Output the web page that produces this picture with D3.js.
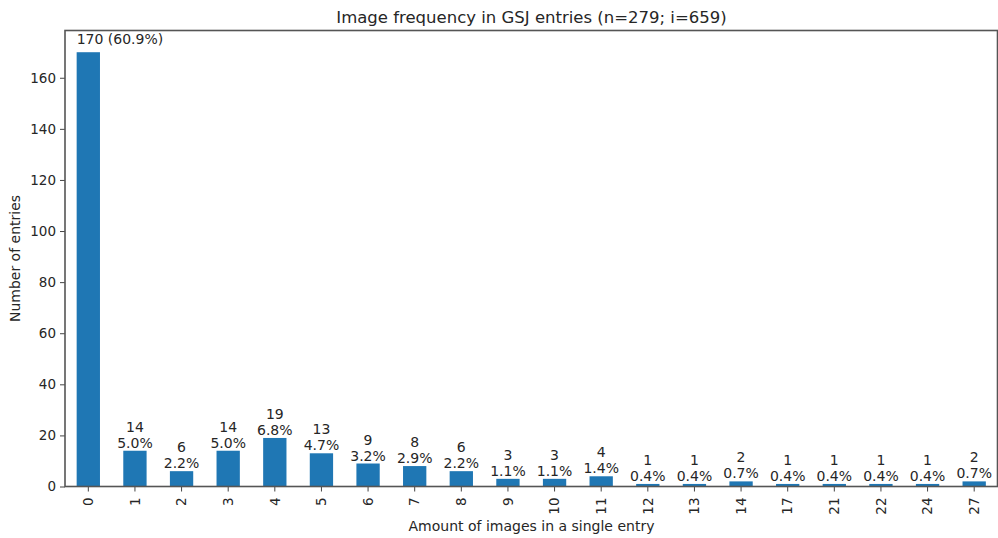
<!DOCTYPE html>
<html><head><meta charset="utf-8">
<script src="https://cdn.jsdelivr.net/npm/d3@7"></script>
<style>body{margin:0;background:#fff}svg{display:block}text{font-family:"DejaVu Sans",sans-serif;fill:#262626}</style>
</head><body>
<svg id="c" width="998" height="538"></svg>
<script>
const categories = ["0","1","2","3","4","5","6","7","8","9","10","11","12","13","14","17","21","22","24","27"];
const counts = [170,14,6,14,19,13,9,8,6,3,3,4,1,1,2,1,1,1,1,2];
const totalEntries = 279;
const yTicks = [0,20,40,60,80,100,120,140,160];
const titleText = "Image frequency in GSJ entries (n=279; i=659)";
const xLabel = "Amount of images in a single entry";
const yLabel = "Number of entries";

const svg = d3.select("#c");
const m = {l:65, r:0.5, t:30.5, b:486.5};
const x = d3.scaleBand().domain(categories).range([m.l, 998 - m.r]).paddingInner(0.5).paddingOuter(0.25);
const y = d3.scaleLinear().domain([0, 178.5]).range([m.b, m.t]);

// bars
svg.append("g").selectAll("rect").data(counts).join("rect")
  .attr("x",(d,i)=>x(categories[i])).attr("width",x.bandwidth())
  .attr("y",d=>y(d)).attr("height",d=>y(0)-y(d)).attr("fill","#1f77b4");

// y axis
const ya = svg.append("g").attr("transform",`translate(${m.l},0)`)
  .call(d3.axisLeft(y).tickValues(yTicks).tickSize(5).tickPadding(4));
ya.select(".domain").remove();
ya.selectAll("line").attr("stroke","#444");
ya.selectAll("text").style("font-size","13.5px").attr("fill","#262626");

// x axis
const xa = svg.append("g").attr("transform",`translate(0,${m.b})`)
  .call(d3.axisBottom(x).tickSize(5).tickPadding(4));
xa.select(".domain").remove();
xa.selectAll("line").attr("stroke","#444");
xa.selectAll("text").style("font-size","13.5px").attr("fill","#262626")
  .attr("transform","rotate(-90)").attr("text-anchor","end").attr("x",-11).attr("y",0).attr("dy","0.35em");

// spines
svg.append("rect").attr("x",m.l).attr("y",m.t).attr("width",998-m.r-m.l).attr("height",m.b-m.t)
  .attr("fill","none").attr("stroke","#555").attr("stroke-width",1.6);

// annotations
counts.forEach((d,i)=>{
  const cx = x(categories[i]) + x.bandwidth()/2;
  const pct = (d/totalEntries*100).toFixed(1)+"%";
  if (i===0) {
    svg.append("text").attr("x",x(categories[i])).attr("y",y(d)-8).style("font-size","14px")
      .text(`${d} (${pct})`);
  } else {
    svg.append("text").attr("x",cx).attr("y",y(d)-3).attr("text-anchor","middle").style("font-size","14px").text(pct);
    svg.append("text").attr("x",cx).attr("y",y(d)-19).attr("text-anchor","middle").style("font-size","14px").text(d);
  }
});

// title and labels
svg.append("text").attr("x",(m.l+998)/2).attr("y",22.5).attr("text-anchor","middle").style("font-size","16.5px").text(titleText);
svg.append("text").attr("x",(m.l+998)/2).attr("y",531).attr("text-anchor","middle").style("font-size","14px").text(xLabel);
svg.append("text").attr("transform",`translate(20,${(m.t+m.b)/2}) rotate(-90)`).attr("text-anchor","middle").style("font-size","14px").text(yLabel);
</script>
</body></html>
